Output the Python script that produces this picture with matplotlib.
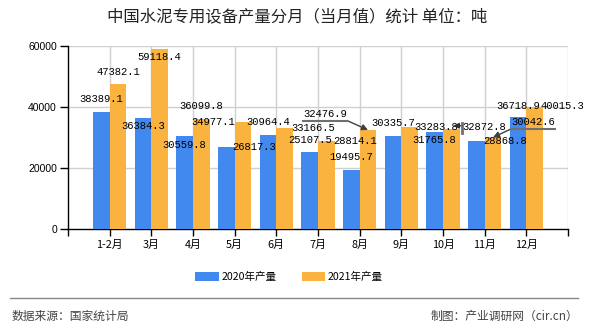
import numpy as np
import matplotlib
matplotlib.use("Agg")
import matplotlib.pyplot as plt
from matplotlib.lines import Line2D
from matplotlib.patches import Patch
from matplotlib.transforms import IdentityTransform

plt.rcParams['font.family'] = ['Noto Sans CJK SC', 'DejaVu Sans']

categories = ['1-2月', '3月', '4月', '5月', '6月', '7月', '8月', '9月', '10月', '11月', '12月']
v2020 = [38389.1, 36384.3, 30559.8, 26817.3, 30964.4, 25107.5, 19495.7, 30335.7, 31765.8, 28868.8, 36718.9]
v2021 = [47382.1, 59118.4, 36099.8, 34977.1, 33166.5, 28814.1, 32476.9, 33283.8, 32872.8, 30042.6, 40015.3]
series_names = ['2020年产量', '2021年产量']
yticks = [0, 20000, 40000, 60000]

title = '中国水泥专用设备产量分月（当月值）统计 单位：吨'
source = '数据来源：国家统计局'
credit = '制图：产业调研网（cir.cn）'

BLUE = '#4189EE'
ORANGE = '#FAB33F'

# label offsets (pixels) relative to bar top centre: (dx, dy)
off2020 = [(0, 12.5), (0, -8), (0, -9), (27.5, 0), (0, 13), (0, 12.5), (0, 13),
           (0, 13), (0, -7.5), (28.5, 0), (0, 11)]
off2021 = [(0, 12), (0, -8.3), (0, 13), (-29.7, 0), (28.6, 0), (28.6, 0), (-43, 16.4),
           (27, 0), (33, 2), (40, 15.4), (28, 1)]

W, H = 590, 330
fig = plt.figure(figsize=(W / 100, H / 100), dpi=100)
ax = fig.add_axes([68 / W, 1 - 229 / H, 500 / W, 183 / H])

x = np.arange(len(categories))
bw = 0.4
ax.bar(x - bw / 2, v2020, bw, color=BLUE, zorder=3)
ax.bar(x + bw / 2, v2021, bw, color=ORANGE, zorder=3)

ax.set_xlim(-1, len(categories))
ax.set_ylim(0, 60000)

# grid
for gx in range(0, len(categories) + 1):
    ax.axvline(gx, color='#d0d0d0', lw=1, zorder=1)
for gy in yticks[1:]:
    ax.axhline(gy, color='#d0d0d0', lw=1, zorder=1)

ax.set_yticks(yticks)
ax.set_yticklabels([str(v) for v in yticks], family=['Liberation Sans'], fontsize=7.5)
ax.set_xticks(np.arange(-1, len(categories) + 1))
ax.set_xticklabels([''] + categories + [''], fontsize=7.8)
ax.tick_params(axis='y', length=6, width=1, pad=2, color='black')
ax.tick_params(axis='x', length=5, width=1, pad=3, color='black')
for s in ['top', 'right']:
    ax.spines[s].set_visible(False)
for s in ['left', 'bottom']:
    ax.spines[s].set_color('black')
    ax.spines[s].set_linewidth(1)

mono = ['Liberation Mono', 'DejaVu Sans Mono']

def disp(xv, yv, dx=0.0, dy=0.0):
    p = ax.transData.transform((xv, yv))
    return p[0] + dx, p[1] + dy

for i in range(len(categories)):
    for vals, offs, shift in ((v2020, off2020, -bw / 2), (v2021, off2021, bw / 2)):
        dx, dy = offs[i]
        ax.annotate(f'{vals[i]:.1f}', xy=(x[i] + shift, vals[i]), xytext=(dx, dy),
                    textcoords='offset pixels', ha='center', va='center',
                    fontsize=7.6, family=mono, color='black', zorder=5,
                    annotation_clip=False)

LEAD = '#707070'

def leader(i, vals, shift, offs, side):
    dx, dy = offs[i]
    bx, by = disp(x[i] + shift, vals[i])
    ux0, uy = bx + dx - 22, by + dy - 7
    ux1 = bx + dx + 22
    if side == 'right':
        start = (ux1, uy)
        pts = [(ux0, uy), (ux1, uy)]
    else:
        start = (ux0, uy)
        pts = [(ux1, uy), (ux0, uy)]
    fig.add_artist(Line2D([p[0] for p in pts], [p[1] for p in pts],
                          transform=IdentityTransform(), color=LEAD, lw=1.5, zorder=6))
    ax.annotate('', xy=(bx, by), xycoords='figure pixels', xytext=start,
                textcoords='figure pixels',
                arrowprops=dict(arrowstyle='-|>', color='#404040', lw=1.0,
                                mutation_scale=9, shrinkA=0, shrinkB=0), zorder=6)

leader(6, v2021, bw / 2, off2021, 'right')
leader(9, v2021, bw / 2, off2021, 'left')

# small leader for Oct 2021 label
dx, dy = off2021[8]
bx, by = disp(x[8] + bw / 2, v2021[8])
sx, sy = bx + dx - 22, by + dy
fig.add_artist(Line2D([sx, sx], [sy - 6, sy + 4], transform=IdentityTransform(),
                      color=LEAD, lw=2, zorder=6))
ax.annotate('', xy=(sx - 9, sy + 1), xycoords='figure pixels', xytext=(sx, sy + 1),
            textcoords='figure pixels',
            arrowprops=dict(arrowstyle='-|>', color='#303030', lw=1.0,
                            mutation_scale=8, shrinkA=0, shrinkB=0), zorder=6)

# title
fig.text(297 / W, 1 - 17 / H, title, ha='center', va='center', fontsize=11.8, color='#222222')

# legend
handles = [Patch(facecolor=BLUE, edgecolor='none'), Patch(facecolor=ORANGE, edgecolor='none')]
fig.legend(handles, series_names, loc='center', bbox_to_anchor=(289 / W, 1 - 277 / H),
           ncol=2, frameon=False, fontsize=7.6, handlelength=2.2, handleheight=0.85,
           handletextpad=0.25, columnspacing=2.4)

# footer
fig.add_artist(Line2D([10 / W, 578 / W], [1 - 298 / H, 1 - 298 / H], transform=fig.transFigure,
                      color='#888888', lw=1))
fig.text(12 / W, 1 - 316 / H, source, ha='left', va='center', fontsize=8.5, color='#444444')
fig.text(578 / W, 1 - 316 / H, credit, ha='right', va='center', fontsize=8.5, color='#444444')

fig.savefig('out.png', dpi=100)
